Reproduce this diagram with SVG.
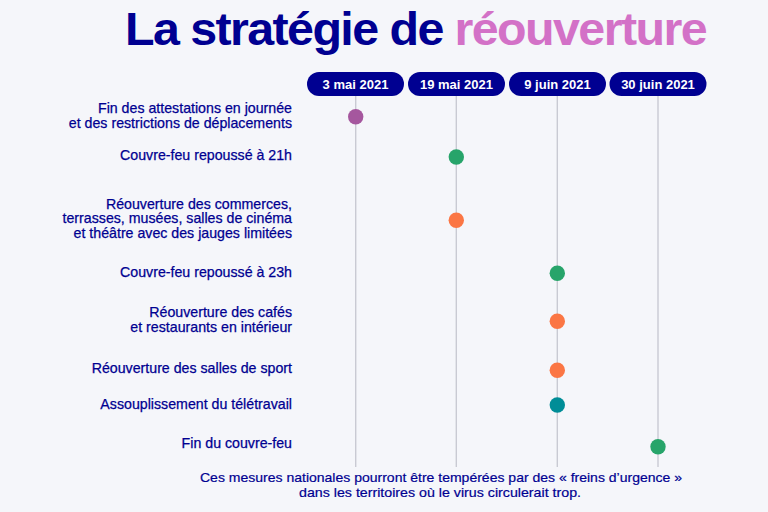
<svg xmlns="http://www.w3.org/2000/svg" width="768" height="512" viewBox="0 0 768 512">
<style>
.title{font-family:"Liberation Sans",Arial,sans-serif;font-weight:bold;font-size:46px;letter-spacing:-1.5px}
.pill{fill:#000091}
.pt{font-family:"Liberation Sans",Arial,sans-serif;font-weight:bold;font-size:13px;fill:#ffffff;text-anchor:middle}
.lbl{font-family:"Liberation Sans",Arial,sans-serif;font-size:14.2px;fill:#000091;stroke:#000091;stroke-width:0.25;text-anchor:end}
.foot{font-family:"Liberation Sans",Arial,sans-serif;font-size:13.2px;fill:#000091;stroke:#000091;stroke-width:0.2;text-anchor:middle}
.vl{stroke:#c9cad3;stroke-width:1.4;fill:none}
.purple{fill:#a5579e}
.green{fill:#27a46a}
.orange{fill:#fb7644}
.teal{fill:#008d97}
</style>
<rect width="768" height="512" fill="#f5f6fa"/>
<text class="title" x="125" y="45" textLength="581" lengthAdjust="spacingAndGlyphs"><tspan fill="#000091">La stratégie de </tspan><tspan fill="#d371c7">réouverture</tspan></text>
<g id="connectors">
<line class="vl" x1="355.7" y1="96" x2="355.7" y2="467"/>
<line class="vl" x1="456.3" y1="96" x2="456.3" y2="467"/>
<line class="vl" x1="557.3" y1="96" x2="557.3" y2="467"/>
<line class="vl" x1="658" y1="96" x2="658" y2="467"/>
</g>
<g id="date-3mai"><rect class="pill" x="307" y="72" width="97" height="24" rx="12"/><text class="pt" x="355.5" y="88.5">3 mai 2021</text></g>
<g id="date-19mai"><rect class="pill" x="408" y="72" width="97" height="24" rx="12"/><text class="pt" x="456.5" y="88.5">19 mai 2021</text></g>
<g id="date-9juin"><rect class="pill" x="509" y="72" width="97" height="24" rx="12"/><text class="pt" x="557.5" y="88.5">9 juin 2021</text></g>
<g id="date-30juin"><rect class="pill" x="609.5" y="72" width="97" height="24" rx="12"/><text class="pt" x="658" y="88.5">30 juin 2021</text></g>
<g id="ev1"><text class="lbl" x="292" y="113.3">Fin des attestations en journée</text><text class="lbl" x="292" y="128.3">et des restrictions de déplacements</text><circle class="purple" cx="355.7" cy="116.7" r="7.7"/></g>
<g id="ev2"><text class="lbl" x="292" y="160.3">Couvre-feu repoussé à 21h</text><circle class="green" cx="456.3" cy="157" r="7.7"/></g>
<g id="ev3"><text class="lbl" x="292" y="208.5">Réouverture des commerces,</text><text class="lbl" x="292" y="223.3">terrasses, musées, salles de cinéma</text><text class="lbl" x="292" y="238">et théâtre avec des jauges limitées</text><circle class="orange" cx="456.3" cy="220.3" r="7.7"/></g>
<g id="ev4"><text class="lbl" x="292" y="277.3">Couvre-feu repoussé à 23h</text><circle class="green" cx="557.3" cy="273.3" r="7.7"/></g>
<g id="ev5"><text class="lbl" x="292" y="316.7">Réouverture des cafés</text><text class="lbl" x="292" y="332.3">et restaurants en intérieur</text><circle class="orange" cx="557.3" cy="321.3" r="7.7"/></g>
<g id="ev6"><text class="lbl" x="292" y="373.3">Réouverture des salles de sport</text><circle class="orange" cx="557.3" cy="370.3" r="7.7"/></g>
<g id="ev7"><text class="lbl" x="292" y="409.3">Assouplissement du télétravail</text><circle class="teal" cx="557.3" cy="405" r="7.7"/></g>
<g id="ev8"><text class="lbl" x="292" y="448.3">Fin du couvre-feu</text><circle class="green" cx="658" cy="446.7" r="7.7"/></g>
<g id="footer"><text class="foot" x="441" y="481.6" textLength="482" lengthAdjust="spacingAndGlyphs">Ces mesures nationales pourront être tempérées par des « freins d’urgence »</text><text class="foot" x="440" y="497.2" textLength="282" lengthAdjust="spacingAndGlyphs">dans les territoires où le virus circulerait trop.</text></g>
</svg>
